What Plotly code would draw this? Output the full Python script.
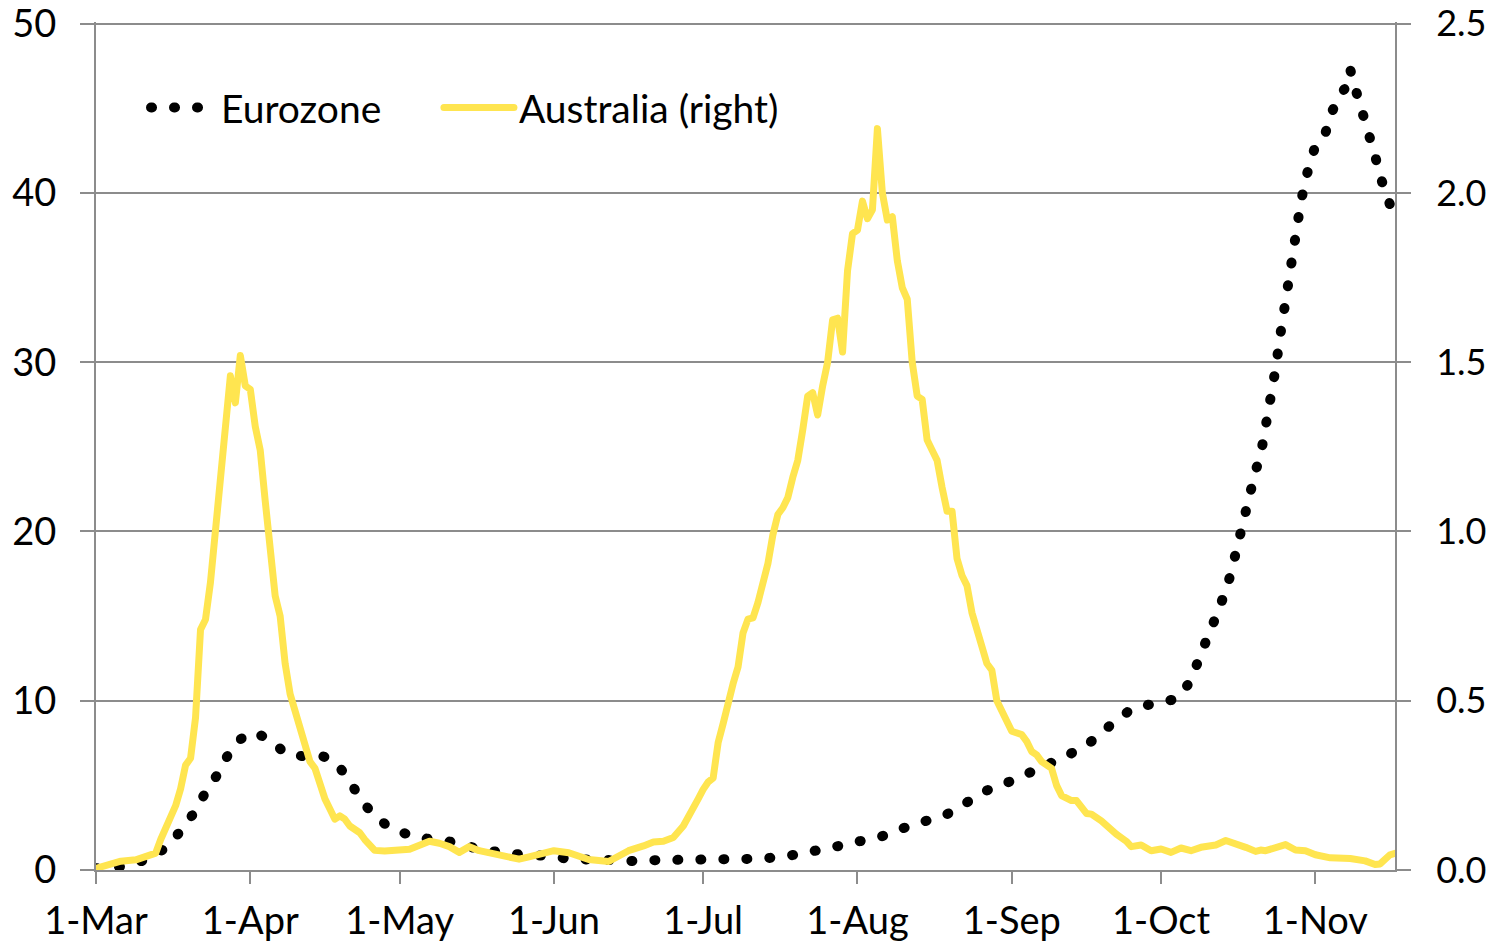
import plotly.graph_objects as go
import pandas as pd

start = pd.Timestamp("2020-03-01")
end = pd.Timestamp("2020-11-17")

# Eurozone (left axis) - day offset from 1-Mar, value
euro_days = [0, 5, 10, 14, 17, 20, 22, 25, 27, 30, 32, 35, 38, 42, 45, 48, 51, 53, 56, 59,
             64, 68, 73, 77, 82, 87, 91, 96, 101, 106, 110, 115, 120, 125, 130, 134, 139, 144,
             148, 153, 158, 162, 166, 171, 175, 179, 183, 187, 191, 196, 200, 204, 208, 212,
             217, 219, 220, 221, 222, 223, 224, 225, 226, 227, 228, 229, 230, 231, 232, 233,
             234, 235, 236, 237, 238, 239, 240, 241, 242, 243, 244, 245, 246, 247, 248, 249,
             250, 251, 252, 253, 254, 255, 256, 257, 258, 259, 260, 261]
euro_vals = [0.1, 0.2, 0.6, 1.3, 2.3, 3.5, 4.6, 5.9, 7.1, 8.0, 8.1, 7.7, 6.9, 6.7, 6.8, 6.4, 5.3, 4.2, 3.2, 2.5,
             1.95, 1.8, 1.6, 1.2, 1.0, 0.85, 0.85, 0.6, 0.65, 0.5, 0.57, 0.58, 0.58, 0.58, 0.6, 0.67, 0.83, 1.07,
             1.34, 1.67, 2.0, 2.45, 2.8, 3.3, 4.0, 4.7, 5.15, 5.6, 6.2, 6.9, 7.6, 8.6, 9.5, 9.8,
             10.1, 10.8, 11.2, 12.0, 12.6, 13.5, 14.2, 14.9, 15.8, 16.5, 17.5, 18.8, 20.0, 21.0, 22.5, 23.6,
             24.5, 26.0, 28.0, 29.6, 31.7, 33.8, 35.6, 37.5, 39.3, 40.8, 42.0, 42.8, 43.2, 43.5, 44.6, 45.3,
             45.8, 46.2, 47.3, 46.2, 45.3, 44.0, 43.2, 42.2, 41.0, 40.0, 39.3, 39.0]

# Australia (right axis)
aus_days = [0, 3, 5, 8, 10, 11, 12, 13, 14, 16, 17, 18, 19, 20, 21, 22, 23, 24, 25, 26, 27, 28, 29, 30,
            31, 32, 33, 34, 35, 36, 37, 38, 39, 40, 41, 42, 43, 44, 45, 46, 47, 48, 49, 50, 51, 52, 53,
            54, 55, 56, 58, 60, 63, 65, 67, 69, 71, 73, 75, 77, 80, 82, 85, 87, 90, 92, 95, 97, 99,
            103, 105, 107, 110, 112, 114, 116, 118, 119, 120, 121, 122, 123, 124, 125, 126, 127, 128,
            129, 130, 131, 132, 133, 134, 135, 136, 137, 138, 139, 140, 141, 142, 143, 144, 145, 146,
            147, 148, 149, 150, 151, 152, 153, 154, 155, 156, 157, 158, 159, 160, 161, 162, 163, 164,
            165, 166, 167, 168, 169, 170, 171, 172, 173, 174, 175, 176, 177, 178, 179, 180, 181, 182,
            183, 184, 186, 187, 188, 189, 190, 191, 192, 193, 194, 196, 197, 199, 200, 202, 204, 205,
            207, 208, 210, 212, 214, 216, 218, 220, 222, 225, 227, 229, 231, 233, 234, 235, 237, 239,
            241, 243, 245, 248, 252, 255, 257, 258, 260, 261]
aus_vals = [0.005, 0.02, 0.026, 0.03, 0.04, 0.044, 0.05, 0.09, 0.12, 0.19, 0.24, 0.31, 0.33, 0.45, 0.71,
            0.74, 0.85, 1.0, 1.18, 1.3, 1.46, 1.38, 1.52, 1.43,
            1.42, 1.31, 1.24, 1.09, 0.92, 0.81, 0.75, 0.61, 0.52, 0.47, 0.43, 0.37, 0.32, 0.30, 0.25,
            0.21, 0.18, 0.15, 0.16, 0.15, 0.13, 0.12, 0.11,
            0.09, 0.07, 0.058, 0.056, 0.059, 0.061, 0.073, 0.085, 0.079, 0.069, 0.052, 0.069, 0.057,
            0.049, 0.039, 0.032, 0.039, 0.047, 0.057, 0.051, 0.041, 0.031,
            0.025, 0.041, 0.057, 0.071, 0.083, 0.085, 0.096, 0.13, 0.16, 0.183, 0.21, 0.238, 0.26,
            0.272, 0.376, 0.432, 0.5, 0.55,
            0.6, 0.70, 0.741, 0.745, 0.79, 0.85, 0.905, 0.99, 1.05, 1.07, 1.1, 1.16, 1.21, 1.30, 1.40,
            1.41, 1.344, 1.43,
            1.50, 1.625, 1.63, 1.53, 1.77, 1.88, 1.89, 1.976, 1.924, 1.95, 2.19, 2.0, 1.92, 1.93, 1.80,
            1.72, 1.686, 1.50,
            1.40, 1.39, 1.27, 1.24, 1.21, 1.13, 1.06, 1.06, 0.92, 0.87, 0.84, 0.76, 0.70, 0.66, 0.61,
            0.59, 0.50, 0.47,
            0.45, 0.41, 0.40, 0.38, 0.35, 0.34, 0.32, 0.31, 0.30, 0.25, 0.22, 0.205, 0.205, 0.167, 0.165,
            0.145, 0.116, 0.106,
            0.085, 0.069, 0.074, 0.057, 0.062, 0.052, 0.065, 0.057, 0.067, 0.074, 0.087, 0.079, 0.067,
            0.055, 0.059, 0.057, 0.067, 0.075,
            0.059, 0.057, 0.045, 0.036, 0.034, 0.027, 0.016, 0.018, 0.045, 0.049]

month_ticks = ["2020-03-01", "2020-04-01", "2020-05-01", "2020-06-01", "2020-07-01",
               "2020-08-01", "2020-09-01", "2020-10-01", "2020-11-01"]
month_labels = ["1-Mar", "1-Apr", "1-May", "1-Jun", "1-Jul", "1-Aug", "1-Sep", "1-Oct", "1-Nov"]

left_ticks = [0, 10, 20, 30, 40, 50]
right_ticks = [0.0, 0.5, 1.0, 1.5, 2.0, 2.5]

euro_dates = start + pd.to_timedelta(euro_days, unit="D")
aus_dates = start + pd.to_timedelta(aus_days, unit="D")

GRID = "#8c8c8c"
FONT = "Lato"
YELLOW = "#FFE550"

fig = go.Figure()
fig.add_trace(go.Scatter(
    x=euro_dates, y=euro_vals, name="Eurozone", mode="lines",
    line=dict(color="black", width=10, dash="1px,22px"), yaxis="y", legend="legend"))
fig.add_trace(go.Scatter(
    x=aus_dates, y=aus_vals, name="Australia (right)", mode="lines",
    line=dict(color=YELLOW, width=7), yaxis="y2", legend="legend2"))

legend_common = dict(orientation="h", yanchor="middle", xanchor="left", y=0.899,
                     bgcolor="rgba(0,0,0,0)", font=dict(size=39))

fig.update_layout(
    width=1490, height=945,
    margin=dict(l=96, r=95, t=22, b=75),
    paper_bgcolor="white", plot_bgcolor="white",
    font=dict(family=FONT, size=38, color="black"),
    showlegend=True,
    legend=dict(x=0.0385, itemwidth=65, **legend_common),
    legend2=dict(x=0.2640, itemwidth=70, **legend_common),
    xaxis=dict(type="date", range=[start, end], showline=True, linecolor=GRID, linewidth=2,
               ticks="outside", ticklen=12, tickwidth=2, tickcolor=GRID,
               tickvals=month_ticks, ticktext=month_labels, showgrid=False,
               tickfont=dict(size=38), ticklabelstandoff=4, automargin=False),
    yaxis=dict(range=[0, 50.1], tickvals=left_ticks, showgrid=True, gridcolor=GRID, gridwidth=2,
               showline=True, linecolor=GRID, linewidth=2, ticks="outside", ticklen=14,
               tickwidth=2, tickcolor=GRID, zeroline=False, tickfont=dict(size=38),
               ticklabelstandoff=16, automargin=False, ticklabeloverflow="allow"),
    yaxis2=dict(range=[0, 2.505], tickvals=right_ticks, tickformat=".1f", overlaying="y",
                side="right", showgrid=False, showline=True, linecolor=GRID, linewidth=2,
                ticks="outside", ticklen=14, tickwidth=2, tickcolor=GRID, zeroline=False,
                tickfont=dict(size=36), ticklabelstandoff=18, automargin=False,
                ticklabeloverflow="allow"),
)

post = """
document.body.style.margin='0';
document.body.style.overflow='hidden';
var gd = document.getElementById('{plot_id}');
function fixcaps(){
  gd.querySelectorAll('path.js-line').forEach(function(p){
    p.style.strokeLinecap='round'; p.style.strokeLinejoin='round';
  });
}
fixcaps();
gd.on('plotly_afterplot', fixcaps);
"""

fig.write_html("out.html", post_script=post, config={"displayModeBar": False})
